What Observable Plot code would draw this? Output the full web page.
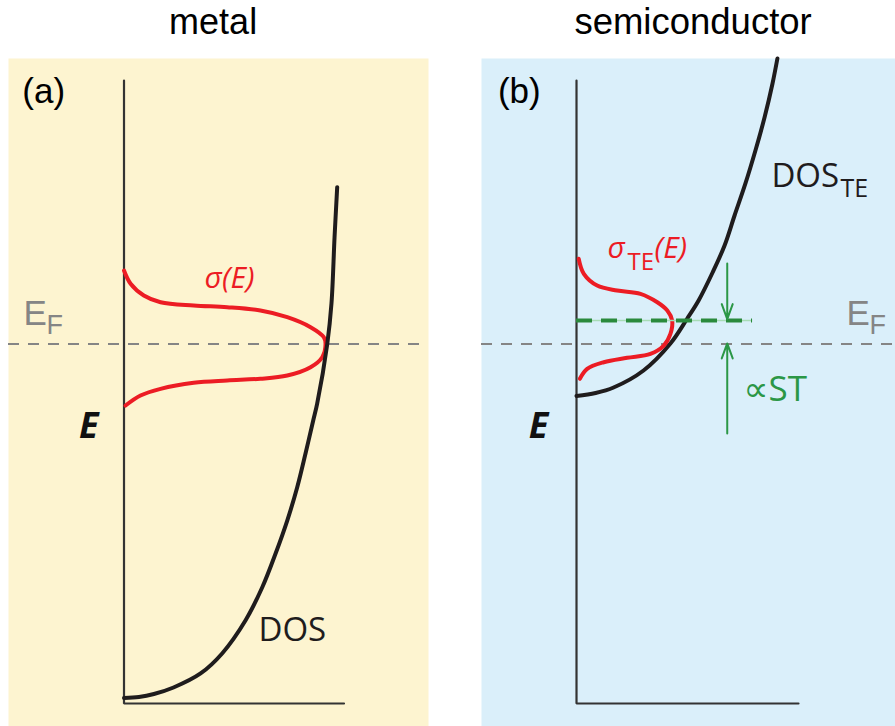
<!DOCTYPE html>
<html><head><meta charset="utf-8">
<script src="https://cdn.jsdelivr.net/npm/d3@7"></script>
<script src="https://cdn.jsdelivr.net/npm/@observablehq/plot@0.6"></script>
<style>
html,body{margin:0;padding:0;background:#fff;}
#fig{position:relative;width:895px;height:726px;overflow:hidden;}
#fig > div{position:absolute;top:0;}
</style></head><body>
<div id="fig"><div id="left" style="left:0"></div><div id="right" style="left:450px"></div></div>
<script>
// ---- chart content ----
const panelTitles = ["metal", "semiconductor"];
const panelTags = ["(a)", "(b)"];
const fermiLevel = 5.77;                 // E_F (energy units, axis 0..10)
const fermiLabel = ["E", "F"];
const energyLabel = "E";
const dosLabel = "DOS";
const teSub = "TE";
const sigmaLabel = "σ(E)";
const stLabel = "∝ST";
const axisE = [10, 0, 0];                // L-shaped axes (energy)
const axisDos = [0, 0, 1];               // L-shaped axes (DOS)

// metal: density of states
const metalDosE = [0.088, 0.104, 0.152, 0.257, 0.482, 0.803, 1.332, 1.862, 2.408, 2.937, 3.467, 4.013, 4.543, 4.815, 5.774, 6.421, 7.485, 8.287];
const metalDos  = [0, 0.068, 0.136, 0.225, 0.348, 0.446, 0.552, 0.628, 0.689, 0.742, 0.787, 0.825, 0.860, 0.878, 0.924, 0.943, 0.957, 0.969];
// metal: transport function sigma(E)
const metalSigmaE = [6.950, 6.737, 6.549, 6.441, 6.388, 6.361, 6.308, 6.201, 6.040, 5.880, 5.774, 5.559, 5.398, 5.265, 5.212, 5.185, 5.148, 5.051, 4.944, 4.783];
const metalSigma  = [0, 0.030, 0.090, 0.166, 0.317, 0.469, 0.620, 0.742, 0.848, 0.908, 0.916, 0.901, 0.848, 0.742, 0.620, 0.469, 0.317, 0.166, 0.075, 0.007];

// semiconductor: DOS_TE
const semiDosE = [4.936, 4.984, 5.072, 5.345, 5.778, 6.180, 6.469, 6.918, 7.352, 7.833, 8.347, 8.876, 9.406, 9.952, 10.353];
const semiDos  = [0, 0.086, 0.167, 0.302, 0.423, 0.499, 0.550, 0.613, 0.667, 0.712, 0.761, 0.806, 0.847, 0.883, 0.905];
// semiconductor: sigma_TE(E)
const semiSigmaE = [7.138, 6.897, 6.709, 6.629, 6.576, 6.441, 6.308, 6.148, 5.934, 5.746, 5.613, 5.549, 5.478, 5.372, 5.212];
const semiSigma  = [0.010, 0.033, 0.093, 0.183, 0.288, 0.364, 0.409, 0.431, 0.423, 0.393, 0.333, 0.228, 0.123, 0.048, 0.015];

// semiconductor: transport level (green dashed) and arrows
const transportLevel = 6.148;
const transportExtent = [0, 0.793];
const arrowDos = 0.679;
const arrowDownE = [7.063, 6.17];
const arrowUpE = [4.334, 5.78];

// ---- drawing ----
const rows = (xs, es) => xs.map((v, i) => ({dos: v, E: es[i]}));
const RED = "#ec1c24", BLACK = "#1f1c1d", GREEN = "#2b9746", GRAY = "#858585";
const SANS = "'Liberation Sans', Arial, sans-serif";
const MYR = "'Open Sans', 'DejaVu Sans', sans-serif";
const yScale = {domain: [-0.369, 10.353], axis: null};
const common = {height: 726, marginTop: 58, marginBottom: 0,
  style: {background: "transparent", overflow: "visible"}};
const axes = rows(axisDos, axisE);

const left = Plot.plot({
  ...common, width: 450, marginLeft: 8, marginRight: 22,
  x: {domain: [-0.525, 1.384], axis: null}, y: yScale,
  marks: [
    Plot.frame({fill: "#fdf4d0", stroke: "none"}),
    Plot.ruleY([fermiLevel], {stroke: GRAY, strokeWidth: 2, strokeDasharray: "11,9"}),
    Plot.line(axes, {x: "dos", y: "E", stroke: "#333", strokeWidth: 2.2, strokeLinejoin: "miter"}),
    Plot.line(rows(metalSigma, metalSigmaE), {x: "dos", y: "E", curve: "catmull-rom", stroke: RED, strokeWidth: 4}),
    Plot.line(rows(metalDos, metalDosE), {x: "dos", y: "E", curve: "catmull-rom", stroke: BLACK, strokeWidth: 4}),
    Plot.text([panelTitles[0]], {x: 0.405, y: 10.754, text: d => d, fontSize: 36, fontFamily: SANS, textAnchor: "middle", lineAnchor: "bottom", fill: "#000"}),
    Plot.text([panelTags[0]], {x: -0.462, y: 9.631, text: d => d, fontSize: 35, fontFamily: SANS, textAnchor: "start", lineAnchor: "bottom", fill: "#000"}),
    Plot.text([fermiLabel[0]], {x: -0.457, y: 6.08, text: d => d, fontSize: 35, fontFamily: SANS, textAnchor: "start", lineAnchor: "bottom", fill: GRAY}),
    Plot.text([fermiLabel[1]], {x: -0.457, y: 6.08, dx: 23, dy: 9, text: d => d, fontSize: 27, fontFamily: SANS, textAnchor: "start", lineAnchor: "bottom", fill: GRAY}),
    Plot.text([energyLabel], {x: -0.205, y: 4.254, text: d => d, fontSize: 36, fontFamily: MYR, fontWeight: "bold", fontStyle: "italic", textAnchor: "start", lineAnchor: "bottom", fill: "#111"}),
    Plot.text([dosLabel], {x: 0.611, y: 1.011, text: d => d, fontSize: 33, fontFamily: MYR, textAnchor: "start", lineAnchor: "bottom", fill: BLACK}),
    Plot.text([sigmaLabel], {x: 0.366, y: 6.677, text: d => d, fontSize: 30, fontFamily: MYR, fontStyle: "italic", textAnchor: "start", lineAnchor: "bottom", fill: RED})
  ]
});

const right = Plot.plot({
  ...common, width: 445, marginLeft: 31, marginRight: 0,
  x: {domain: [-0.428, 1.437], axis: null}, y: yScale,
  marks: [
    Plot.frame({fill: "#daeffa", stroke: "none"}),
    Plot.ruleY([fermiLevel], {stroke: GRAY, strokeWidth: 2, strokeDasharray: "11,9"}),
    Plot.line(axes, {x: "dos", y: "E", stroke: "#333", strokeWidth: 2.2, strokeLinejoin: "miter"}),
    Plot.line(rows(semiDos, semiDosE), {x: "dos", y: "E", curve: "catmull-rom", stroke: BLACK, strokeWidth: 4}),
    Plot.line(rows(semiSigma, semiSigmaE), {x: "dos", y: "E", curve: "catmull-rom", stroke: RED, strokeWidth: 4}),
    Plot.ruleY([transportLevel], {x1: transportExtent[0], x2: transportExtent[1], stroke: "#a8dcb6", strokeWidth: 1.5}),
    Plot.ruleY([transportLevel], {x1: transportExtent[0], x2: transportExtent[1], stroke: "#2a8a3c", strokeWidth: 4, strokeDasharray: "16,9"}),
    Plot.arrow([{x: arrowDos, a: arrowDownE[0], b: arrowDownE[1]}, {x: arrowDos, a: arrowUpE[0], b: arrowUpE[1]}],
      {x1: "x", x2: "x", y1: "a", y2: "b", stroke: GREEN, strokeWidth: 2, headLength: 12, headAngle: 40}),
    Plot.text([panelTitles[1]], {x: 0.525, y: 10.754, text: d => d, fontSize: 36.5, fontFamily: SANS, textAnchor: "middle", lineAnchor: "bottom", fill: "#000"}),
    Plot.text([panelTags[1]], {x: -0.354, y: 9.631, text: d => d, fontSize: 35, fontFamily: SANS, textAnchor: "start", lineAnchor: "bottom", fill: "#000"}),
    Plot.text([fermiLabel[0]], {x: 1.216, y: 6.08, text: d => d, fontSize: 35, fontFamily: SANS, textAnchor: "start", lineAnchor: "bottom", fill: GRAY}),
    Plot.text([fermiLabel[1]], {x: 1.216, y: 6.08, dx: 23, dy: 9, text: d => d, fontSize: 27, fontFamily: SANS, textAnchor: "start", lineAnchor: "bottom", fill: GRAY}),
    Plot.text([energyLabel], {x: -0.215, y: 4.254, text: d => d, fontSize: 36, fontFamily: MYR, fontWeight: "bold", fontStyle: "italic", textAnchor: "start", lineAnchor: "bottom", fill: "#111"}),
    Plot.text([dosLabel], {x: 0.878, y: 8.283, text: d => d, fontSize: 33, fontFamily: MYR, textAnchor: "start", lineAnchor: "bottom", fill: BLACK}),
    Plot.text([teSub], {x: 0.878, y: 8.283, dx: 69, dy: 10, text: d => d, fontSize: 25, fontFamily: MYR, textAnchor: "start", lineAnchor: "bottom", fill: BLACK}),
    Plot.text([sigmaLabel.slice(0, 1)], {x: 0.140, y: 7.143, text: d => d, fontSize: 30, fontFamily: MYR, fontStyle: "italic", textAnchor: "start", lineAnchor: "bottom", fill: RED}),
    Plot.text([teSub], {x: 0.140, y: 7.143, dx: 20, dy: 12, text: d => d, fontSize: 24, fontFamily: MYR, textAnchor: "start", lineAnchor: "bottom", fill: RED}),
    Plot.text([sigmaLabel.slice(1)], {x: 0.140, y: 7.143, dx: 47, text: d => d, fontSize: 30, fontFamily: MYR, fontStyle: "italic", textAnchor: "start", lineAnchor: "bottom", fill: RED}),
    Plot.text([stLabel], {x: 0.752, y: 4.863, text: d => d, fontSize: 35, fontFamily: MYR, textAnchor: "start", lineAnchor: "bottom", fill: GREEN})
  ]
});

document.getElementById("left").appendChild(left);
document.getElementById("right").appendChild(right);
</script>
</body></html>
